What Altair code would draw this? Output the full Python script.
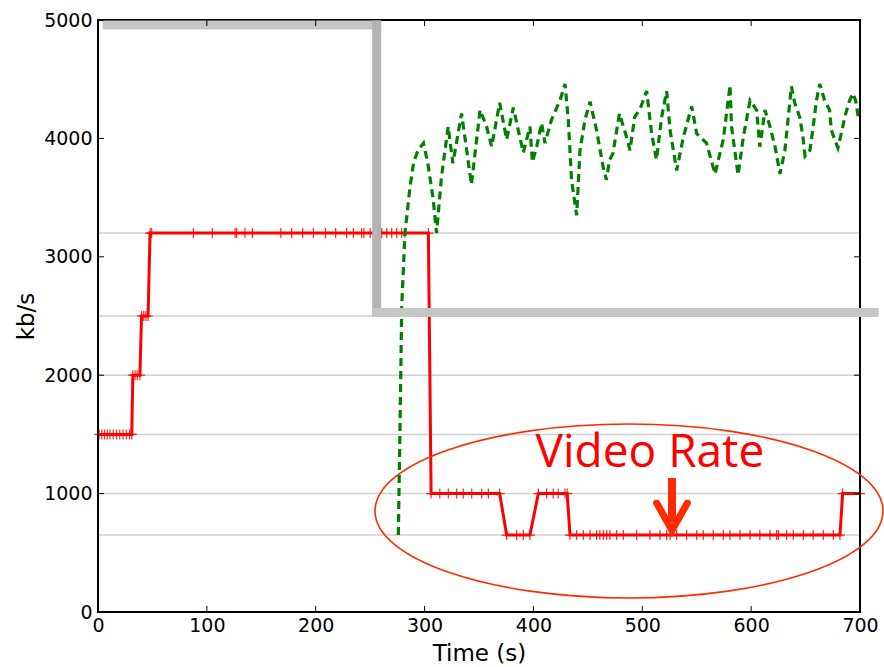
import altair as alt
import pandas as pd

# ---------------- data ----------------
x_ticks = [0, 100, 200, 300, 400, 500, 600, 700]
y_ticks = [0, 1000, 2000, 3000, 4000, 5000]
rate_levels = [650, 1000, 1500, 2000, 2500, 3200]

red_t = [1, 3.5, 6, 8.5, 11, 14, 17, 20, 23, 26, 29, 31,
         32, 34, 36, 38.5,
         40, 42, 44, 46,
         47.8, 49.3, 87.6, 105, 125.9, 127.4, 135, 141.8, 168, 177.9, 188, 197.8,
         209, 218.3, 228.4, 234.6, 242.2, 244.3, 250, 254.5, 260.6, 265.2, 269.8,
         274.4, 279, 282, 303.5,
         306, 314, 321.8, 329.5, 335.5, 343.3, 352.5, 358.6, 369,
         375.4, 384.6, 390.7, 396.8,
         404.5, 412.1, 418.2, 422.8, 429, 431,
         433.6, 439.7, 445.8, 452, 458, 461, 464.2, 467.3, 470.3, 476.5, 482.6,
         494.8, 507, 516.3, 522.4, 525.5, 531.6, 540.8, 550, 556, 565.2, 574.4,
         580.6, 589.8, 599, 608, 617.3, 623.4, 625, 632.6, 638.7, 648, 657,
         666.3, 675.5, 681.6,
         684, 700]
red_v = ([1500] * 12 + [2000] * 4 + [2500] * 4 + [3200] * 27 + [1000] * 9 +
         [650] * 4 + [1000] * 6 + [650] * 36 + [1000] * 2)

green_t = [275.9, 277.5, 279, 282, 286.6, 290, 294, 299, 303, 308, 311, 315.6,
           321.7, 326, 334, 338.7, 343, 351, 357, 361.6, 369, 375.4, 381.5,
           390.7, 396.8, 399, 403, 407.5, 410.6, 416.7, 424.4, 429, 432, 435,
           439.7, 442.8, 447.4, 452, 458, 464, 467, 470, 473, 479, 485.6, 488.7,
           493, 498, 504, 508.6, 513, 517.8, 522.4, 525.5, 531.6, 537.7, 545.4,
           550, 559, 566.8, 574.4, 580.6, 582, 588, 592.8, 599, 605, 608, 612.7,
           617.3, 622, 626.5, 631, 637, 640, 644.6, 647.6, 649.5, 654, 657, 660,
           663, 667.5, 672, 673.7, 676.7, 679.7, 683, 686, 690.4, 693.5, 696,
           698.4, 700]
green_v = [650, 1600, 2580, 3200, 3590, 3800, 3900, 3960, 3790, 3480, 3200, 3680,
           4100, 3790, 4210, 3900, 3610, 4240, 4100, 3930, 4300, 3990, 4260,
           3880, 4100, 3800, 3930, 4130, 3960, 4160, 4320, 4460, 4160, 3650,
           3350, 3900, 4160, 4310, 4070, 3760, 3650, 3820, 3870, 4210, 4010, 3900,
           4180, 4250, 4400, 4040, 3820, 4180, 4400, 4070, 3730, 4010, 4270,
           4040, 3960, 3700, 3990, 4450, 4100, 3690, 4010, 4320, 4240, 3930, 4240,
           4100, 3930, 3700, 3900, 4440, 4300, 4180, 4010, 3850, 3900, 4100, 4320,
           4460, 4320, 4240, 4070, 3990, 3920, 4050, 4180, 4320, 4380, 4320,
           4180, 4150]

# grey annotation (capacity drop), three segments
gray_seg = ["top", "top", "vert", "vert", "bottom", "bottom"]
gray_t = [8.5, 256, 256, 256, 256, 713]
gray_v = [4958, 4958, 4958, 2530, 2530, 2530]

annot_text = "Video Rate"
text_t, text_v = [507], [1225]
ellipse_t, ellipse_v = [487.8], [853]
arrow_shaft_t, arrow_shaft_v, arrow_shaft_v2 = [527.3], [1132], [760]
arrow_head_t = [513.2, 527.3, 541.4]
arrow_head_v = [920, 690, 920]

# ---------------- layout ----------------
W, H = 762, 592
FONT = "DejaVu Sans"

xs = alt.Scale(domain=[0, 700], nice=False, zero=False)
ys = alt.Scale(domain=[0, 5000], nice=False, zero=False)

red_df = pd.DataFrame({"t": red_t, "v": red_v})
green_df = pd.DataFrame({"t": green_t, "v": green_v})
gray_df = pd.DataFrame({"seg": gray_seg, "t": gray_t, "v": gray_v,
                        "o": list(range(len(gray_t)))})
xt_df = pd.DataFrame({"t": x_ticks})
yt_df = pd.DataFrame({"v": y_ticks})
grid_df = pd.DataFrame({"v": rate_levels})

x_axis = alt.Axis(values=x_ticks, title="Time (s)", grid=False, domain=False,
                  ticks=False, tickSize=0, labelPadding=4, labelFont=FONT,
                  labelFontSize=19, labelColor="black", labelFlush=False,
                  format="d",
                  titleFont=FONT, titleFontSize=23, titleFontWeight="normal",
                  titleColor="black", titleY=48, titleBaseline="alphabetic")
y_axis = alt.Axis(values=y_ticks, title="kb/s", grid=False, domain=False,
                  ticks=False, tickSize=0, labelPadding=6, labelFont=FONT,
                  labelFontSize=19, labelColor="black", labelFlush=False,
                  format="d",
                  titleFont=FONT, titleFontSize=23, titleFontWeight="normal",
                  titleColor="black", titleX=-65, titleY=296,
                  titleAlign="center", titleBaseline="alphabetic")

base_x = alt.X("t:Q", scale=xs, axis=x_axis)
base_y = alt.Y("v:Q", scale=ys, axis=y_axis)

grid = alt.Chart(grid_df).mark_rule(color="#cfcfcf", strokeWidth=1.5).encode(
    y=alt.Y("v:Q", scale=ys, axis=y_axis), x=alt.value(0), x2=alt.value(W))

green = alt.Chart(green_df).mark_line(color="#008000", strokeWidth=3.2,
                                      strokeDash=[8, 5]).encode(
    x=base_x, y=base_y, order="t:Q")

red = alt.Chart(red_df).mark_line(color="#ff0000", strokeWidth=3).encode(
    x=base_x, y=base_y, order="t:Q")
red_pts = alt.Chart(red_df).mark_point(
    shape="M0,-1L0,1M-1,0L1,0", size=100, filled=False, color="#ff0000",
    strokeWidth=1.2, opacity=0.85).encode(x=base_x, y=base_y)

gray = alt.Chart(gray_df).mark_line(strokeWidth=9, strokeCap="square",
                                    clip=False).encode(
    x=base_x, y=base_y, order="o:Q", detail="seg:N",
    color=alt.Color("seg:N", legend=None,
                    scale=alt.Scale(domain=["top", "vert", "bottom"],
                                    range=["#c6c6c6", "#b4b4b4", "#c6c6c6"])))

frame = alt.Chart(pd.DataFrame({"a": [0]})).mark_rect(
    fill=None, stroke="black", strokeWidth=1.8).encode(
    x=alt.value(0), x2=alt.value(W), y=alt.value(0), y2=alt.value(H))

ticks_bottom = alt.Chart(xt_df).mark_rule(color="black", strokeWidth=1).encode(
    x=base_x, y=alt.value(H), y2=alt.value(H - 6))
ticks_top = alt.Chart(xt_df).mark_rule(color="black", strokeWidth=1).encode(
    x=base_x, y=alt.value(0), y2=alt.value(6))
ticks_left = alt.Chart(yt_df).mark_rule(color="black", strokeWidth=1).encode(
    y=base_y, x=alt.value(0), x2=alt.value(6))
ticks_right = alt.Chart(yt_df).mark_rule(color="black", strokeWidth=1).encode(
    y=base_y, x=alt.value(W), x2=alt.value(W - 6))

k = 0.5523
ry = 87 / 254
ellipse_path = (f"M-1,0 C-1,{-ry*k:.4f} {-k},{-ry:.4f} 0,{-ry:.4f} "
                f"C{k},{-ry:.4f} 1,{-ry*k:.4f} 1,0 "
                f"C1,{ry*k:.4f} {k},{ry:.4f} 0,{ry:.4f} "
                f"C{-k},{ry:.4f} -1,{ry*k:.4f} -1,0 Z")
ellipse = alt.Chart(pd.DataFrame({"t": ellipse_t, "v": ellipse_v})).mark_point(
    shape=ellipse_path, size=(2 * 254) ** 2, filled=False, color="#ff2a00",
    strokeWidth=1.6, opacity=1, clip=False).encode(x=base_x, y=base_y)

label = alt.Chart(pd.DataFrame({"t": text_t, "v": text_v, "s": [annot_text]})).mark_text(
    font="Open Sans", fontSize=46, color="#ff0000", align="center",
    baseline="alphabetic").encode(x=base_x, y=base_y, text="s:N")

shaft = alt.Chart(pd.DataFrame({"t": arrow_shaft_t, "v": arrow_shaft_v,
                                "v2": arrow_shaft_v2})).mark_rule(
    color="#ff2a00", strokeWidth=8).encode(x=base_x, y=base_y, y2="v2:Q")
head = alt.Chart(pd.DataFrame({"t": arrow_head_t, "v": arrow_head_v,
                               "o": [0, 1, 2]})).mark_line(
    color="#ff2a00", strokeWidth=7, strokeJoin="miter", strokeCap="round").encode(
    x=base_x, y=base_y, order="o:Q")

chart = alt.layer(
    grid, red, red_pts, green, frame, gray, ticks_bottom, ticks_top, ticks_left,
    ticks_right, ellipse, label, shaft, head
).properties(
    width=W, height=H,
    background="white",
    autosize=alt.AutoSizeParams(type="none"),
    padding={"left": 98, "top": 20, "right": 24, "bottom": 55},
).configure_view(
    stroke="black", strokeWidth=1.8
)

chart.save("out.html", embed_options={"renderer": "svg", "actions": False})
